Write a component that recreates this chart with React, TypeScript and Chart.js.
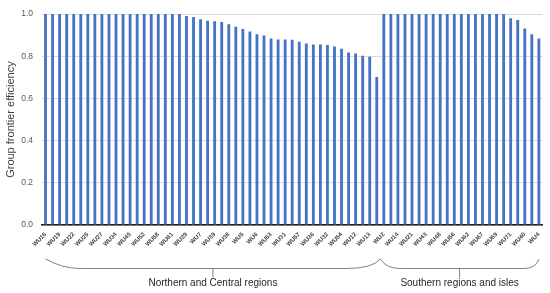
import React, { useEffect, useRef } from 'react';
import { Chart, registerables } from 'chart.js';

Chart.register(...registerables);

// Every second bar carries a tick label (as in the source figure)
const tickLabels = [
  'WU16', 'WU19', 'WU22', 'WU25', 'WU27', 'WU34', 'WU45', 'WU52', 'WU58', 'WU61',
  'WU29', 'WU7', 'WU39', 'WU38', 'WU5', 'WU6', 'WU63', 'WU31', 'WU57', 'WU36',
  'WU32', 'WU54', 'WU12', 'WU13', 'WU2', 'WU14', 'WU21', 'WU43', 'WU48', 'WU56',
  'WU62', 'WU67', 'WU69', 'WU71', 'WU40', 'WU4',
];

const northernEfficiency = [
  1, 1, 1, 1, 1, 1, 1, 1, 1, 1,
  1, 1, 1, 1, 1, 1, 1, 1, 1, 1,
  0.991, 0.986, 0.975, 0.969, 0.966, 0.963, 0.952, 0.94, 0.929, 0.917,
  0.904, 0.898, 0.884, 0.88, 0.88, 0.878, 0.869, 0.861, 0.856, 0.856,
  0.853, 0.846, 0.836, 0.818, 0.813, 0.803, 0.798, 0.702,
];

const southernEfficiency = [
  1, 1, 1, 1, 1, 1, 1, 1, 1, 1,
  1, 1, 1, 1, 1, 1, 1, 1,
  0.98, 0.972, 0.932, 0.904, 0.884,
];

const groupNames = ['Northern and Central regions', 'Southern regions and isles'];

const yMin = 0;
const yMax = 1;
const yStep = 0.2;

const efficiency = [...northernEfficiency, ...southernEfficiency];
const categories = efficiency.map((_, i) => (i % 2 === 0 ? tickLabels[i / 2] : ''));

const bracePlugin = {
  id: 'groupBraces',
  afterDraw(chart: any) {
    const { ctx, chartArea, scales } = chart;
    const x = scales.x;
    const b = chartArea.bottom;
    const yTop = b + 34;
    const yMid = b + 43.5;
    const yTick = b + 52.5;
    const yText = b + 58.5;
    const x0 = x.getPixelForValue(0);
    const peak = x.getPixelForValue(northernEfficiency.length - 0.5);
    const x1 = x.getPixelForValue(efficiency.length - 1);
    ctx.save();
    ctx.strokeStyle = '#7f7f7f';
    ctx.lineWidth = 1;
    ctx.beginPath();
    ctx.moveTo(x0, yTop);
    ctx.quadraticCurveTo(x0 + 17, yMid, x0 + 35, yMid);
    ctx.lineTo(peak - 34, yMid);
    ctx.quadraticCurveTo(peak - 8, yMid, peak, yTop);
    ctx.quadraticCurveTo(peak + 6, yMid, peak + 20, yMid);
    ctx.lineTo(x1 - 15, yMid);
    ctx.quadraticCurveTo(x1 - 3, yMid, x1, yTop);
    const mids = [(x0 + peak) / 2, (peak + x1) / 2];
    mids.forEach((m) => {
      ctx.moveTo(m, yMid);
      ctx.lineTo(m, yTick);
    });
    ctx.stroke();
    ctx.fillStyle = '#262626';
    ctx.font = '10px "Liberation Sans", Arial, sans-serif';
    ctx.textAlign = 'center';
    ctx.textBaseline = 'middle';
    mids.forEach((m, i) => ctx.fillText(groupNames[i], m, yText));
    ctx.restore();
  },
};

export default function App() {
  const ref = useRef<HTMLCanvasElement>(null);
  useEffect(() => {
    if (!ref.current) return;
    const chart = new Chart(ref.current, {
      type: 'bar',
      data: {
        labels: categories,
        datasets: [
          {
            data: efficiency,
            backgroundColor: '#4472C4',
            borderWidth: 0,
            categoryPercentage: 1,
            barPercentage: 0.4,
          },
        ],
      },
      options: {
        animation: false,
        responsive: false,
        devicePixelRatio: 1,
        layout: { padding: { top: 9, right: 5, bottom: 0, left: 0 } },
        plugins: { legend: { display: false }, tooltip: { enabled: false } },
        scales: {
          x: {
            grid: { display: false, drawTicks: false },
            border: { display: true, color: '#1a1a1a', width: 1.5 },
            ticks: {
              autoSkip: false,
              minRotation: 45,
              maxRotation: 45,
              padding: 6,
              color: '#404040',
              font: { size: 6, weight: 'bold', family: '"Liberation Sans", Arial, sans-serif' },
            },
            afterFit: (s: any) => {
              s.height = 68;
            },
          },
          y: {
            min: yMin,
            max: yMax,
            grid: { color: '#d9d9d9', lineWidth: 1, drawTicks: false },
            border: { display: false },
            ticks: {
              stepSize: yStep,
              padding: 9,
              color: '#595959',
              font: { size: 8.5, family: '"Liberation Sans", Arial, sans-serif' },
              callback: (v: any) => Number(v).toFixed(1),
            },
            title: {
              display: true,
              text: 'Group frontier efficiency',
              color: '#404040',
              font: { size: 11, family: '"Liberation Sans", Arial, sans-serif' },
              padding: { top: 4, bottom: 0 },
            },
            afterFit: (s: any) => {
              s.width = 42;
            },
          },
        },
      },
      plugins: [bracePlugin],
    });
    return () => chart.destroy();
  }, []);
  return (
    <div style={{ position: 'absolute', left: 0, top: 0, width: 550, height: 293, background: '#fff' }}>
      <canvas ref={ref} width={550} height={293} />
    </div>
  );
}
